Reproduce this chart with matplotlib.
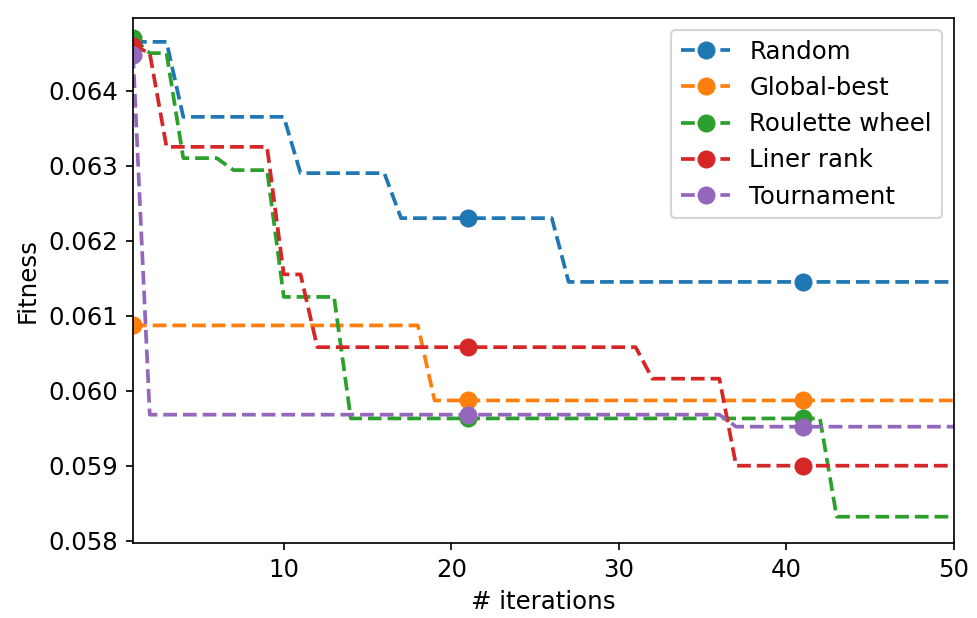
import numpy as np
import matplotlib
matplotlib.use("Agg")
import matplotlib.pyplot as plt

plt.rcParams["font.size"] = 11.5
plt.rcParams["lines.linewidth"] = 1.75
plt.rcParams["lines.markersize"] = 7.5

iterations = np.arange(1, 51)

random_sel = [0.06465, 0.06465, 0.06465, 0.06365, 0.06365, 0.06365, 0.06365, 0.06365, 0.06365, 0.06365,
              0.06290, 0.06290, 0.06290, 0.06290, 0.06290, 0.06290, 0.06230, 0.06230, 0.06230, 0.06230,
              0.06230, 0.06230, 0.06230, 0.06230, 0.06230, 0.06230, 0.06145, 0.06145, 0.06145, 0.06145,
              0.06145, 0.06145, 0.06145, 0.06145, 0.06145, 0.06145, 0.06145, 0.06145, 0.06145, 0.06145,
              0.06145, 0.06145, 0.06145, 0.06145, 0.06145, 0.06145, 0.06145, 0.06145, 0.06145, 0.06145]

global_best = [0.06087, 0.06087, 0.06087, 0.06087, 0.06087, 0.06087, 0.06087, 0.06087, 0.06087, 0.06087,
               0.06087, 0.06087, 0.06087, 0.06087, 0.06087, 0.06087, 0.06087, 0.06087, 0.05987, 0.05987,
               0.05987, 0.05987, 0.05987, 0.05987, 0.05987, 0.05987, 0.05987, 0.05987, 0.05987, 0.05987,
               0.05987, 0.05987, 0.05987, 0.05987, 0.05987, 0.05987, 0.05987, 0.05987, 0.05987, 0.05987,
               0.05987, 0.05987, 0.05987, 0.05987, 0.05987, 0.05987, 0.05987, 0.05987, 0.05987, 0.05987]

roulette = [0.06470, 0.06450, 0.06450, 0.06310, 0.06310, 0.06310, 0.06294, 0.06294, 0.06294, 0.06125,
            0.06125, 0.06125, 0.06125, 0.05963, 0.05963, 0.05963, 0.05963, 0.05963, 0.05963, 0.05963,
            0.05963, 0.05963, 0.05963, 0.05963, 0.05963, 0.05963, 0.05963, 0.05963, 0.05963, 0.05963,
            0.05963, 0.05963, 0.05963, 0.05963, 0.05963, 0.05963, 0.05963, 0.05963, 0.05963, 0.05963,
            0.05963, 0.05963, 0.05832, 0.05832, 0.05832, 0.05832, 0.05832, 0.05832, 0.05832, 0.05832]

liner_rank = [0.06460, 0.06450, 0.06325, 0.06325, 0.06325, 0.06325, 0.06325, 0.06325, 0.06325, 0.06155,
              0.06155, 0.06058, 0.06058, 0.06058, 0.06058, 0.06058, 0.06058, 0.06058, 0.06058, 0.06058,
              0.06058, 0.06058, 0.06058, 0.06058, 0.06058, 0.06058, 0.06058, 0.06058, 0.06058, 0.06058,
              0.06058, 0.06016, 0.06016, 0.06016, 0.06016, 0.06016, 0.05900, 0.05900, 0.05900, 0.05900,
              0.05900, 0.05900, 0.05900, 0.05900, 0.05900, 0.05900, 0.05900, 0.05900, 0.05900, 0.05900]

tournament = [0.06448, 0.05968, 0.05968, 0.05968, 0.05968, 0.05968, 0.05968, 0.05968, 0.05968, 0.05968,
              0.05968, 0.05968, 0.05968, 0.05968, 0.05968, 0.05968, 0.05968, 0.05968, 0.05968, 0.05968,
              0.05968, 0.05968, 0.05968, 0.05968, 0.05968, 0.05968, 0.05968, 0.05968, 0.05968, 0.05968,
              0.05968, 0.05968, 0.05968, 0.05968, 0.05968, 0.05968, 0.05952, 0.05952, 0.05952, 0.05952,
              0.05952, 0.05952, 0.05952, 0.05952, 0.05952, 0.05952, 0.05952, 0.05952, 0.05952, 0.05952]

series = [("Random", random_sel), ("Global-best", global_best), ("Roulette wheel", roulette),
          ("Liner rank", liner_rank), ("Tournament", tournament)]

fig, ax = plt.subplots(figsize=(6.4, 4.045), dpi=152.8)
fig.subplots_adjust(left=0.136, right=0.9755, bottom=0.1214, top=0.971)

for name, vals in series:
    ax.plot(iterations, vals, "--o", markevery=20, label=name)

ax.set_xlim(1, 50)
ax.set_ylim(0.05797, 0.06497)
ax.set_xlabel("# iterations")
ax.set_ylabel("Fitness")
ax.legend(loc="upper right")

fig.savefig("out.png")
